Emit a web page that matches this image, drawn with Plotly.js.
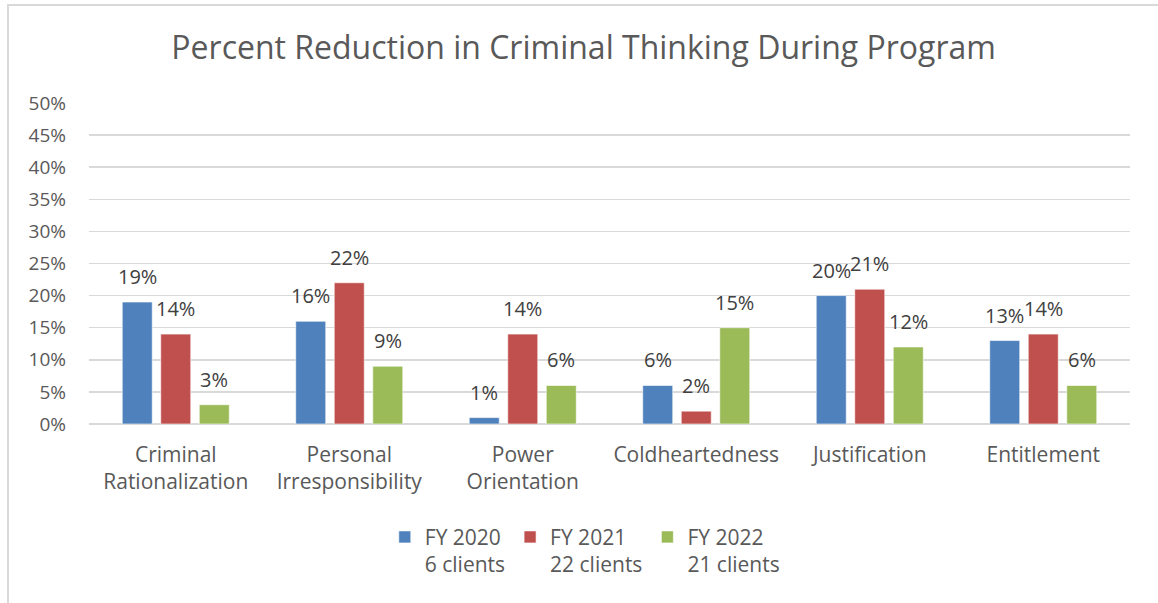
<!DOCTYPE html>
<html>
<head>
<meta charset="utf-8">
<script src="https://cdn.plot.ly/plotly-3.0.1.min.js"></script>
<style>
html,body{margin:0;padding:0;background:#fff;}
#chart{width:1158px;height:603px;}
</style>
</head>
<body>
<div id="chart"></div>
<script>
const categories = ["Criminal<br>Rationalization", "Personal<br>Irresponsibility", "Power<br>Orientation", "Coldheartedness", "Justification", "Entitlement"];
const seriesNames = ["FY 2020<br>6 clients", "FY 2021<br>22 clients", "FY 2022<br>21 clients"];
const fy2020 = [19, 16, 1, 6, 20, 13];
const fy2021 = [14, 22, 14, 2, 21, 14];
const fy2022 = [3, 9, 6, 15, 12, 6];
const colors = ["#4F81BD", "#C0504D", "#9BBB59"];
const yTickVals = [0, 5, 10, 15, 20, 25, 30, 35, 40, 45, 50];
const yTickText = ["0%", "5%", "10%", "15%", "20%", "25%", "30%", "35%", "40%", "45%", "50%"];

const FONT = "'Open Sans', 'Noto Sans', sans-serif";
const seriesVals = [fy2020, fy2021, fy2022];
const barW = 0.173;
const step = 0.222;
const idx = categories.map((c, i) => i);

const traces = seriesVals.map((vals, k) => ({
  type: 'bar',
  x: idx,
  y: vals,
  name: seriesNames[k],
  width: barW,
  offset: (k - 1) * step - barW / 2,
  marker: {color: colors[k], line: {color: 'rgba(255,255,255,0.6)', width: 1}},
  hoverinfo: 'none'
}));

const annotations = [];
seriesVals.forEach((vals, k) => {
  vals.forEach((v, i) => {
    annotations.push({
      x: i + (k - 1) * step,
      y: v,
      xref: 'x', yref: 'y',
      text: v + '%',
      showarrow: false,
      yanchor: 'bottom',
      yshift: 10,
      font: {family: FONT, size: 20, color: '#404040'}
    });
  });
});

const layout = {
  width: 1158,
  height: 603,
  paper_bgcolor: '#ffffff',
  plot_bgcolor: '#ffffff',
  margin: {l: 89, r: 28, t: 103, b: 179},
  font: {family: FONT, color: '#595959'},
  title: {
    text: 'Percent Reduction in Criminal Thinking During Program',
    font: {family: FONT, size: 32, color: '#595959'},
    x: 0.504, xref: 'container', xanchor: 'center',
    y: 0.92, yref: 'container', yanchor: 'middle'
  },
  barmode: 'overlay',
  showlegend: true,
  legend: {
    orientation: 'h',
    x: 0.505, xanchor: 'center', xref: 'container',
    y: 0.143, yanchor: 'top', yref: 'container',
    valign: 'top',
    font: {family: FONT, size: 21, color: '#595959'},
    traceorder: 'normal'
  },
  xaxis: {
    type: 'linear',
    range: [-0.5, 5.5],
    tickvals: idx,
    ticktext: categories,
    showgrid: false,
    zeroline: false,
    showline: false,
    ticks: '',
    ticklabelstandoff: 16,
    tickfont: {family: FONT, size: 21, color: '#595959'},
    fixedrange: true
  },
  yaxis: {
    range: [0, 50],
    tickvals: yTickVals,
    ticktext: yTickText,
    showgrid: true,
    gridcolor: '#d9d9d9',
    gridwidth: 1.5,
    zeroline: true,
    zerolinecolor: '#d9d9d9',
    zerolinewidth: 1.5,
    showline: false,
    ticks: '',
    ticklabelstandoff: 22,
    tickfont: {family: FONT, size: 19, color: '#595959'},
    fixedrange: true
  },
  annotations: annotations,
  shapes: [{
    type: 'rect',
    xref: 'paper', yref: 'paper',
    x0: -0.0778, x1: 1.06,
    y0: -0.7, y1: 1.305,
    line: {color: '#d9d9d9', width: 2},
    fillcolor: 'rgba(0,0,0,0)',
    layer: 'below'
  }]
};

Plotly.newPlot('chart', traces, layout, {staticPlot: true, displayModeBar: false});
</script>
</body>
</html>
